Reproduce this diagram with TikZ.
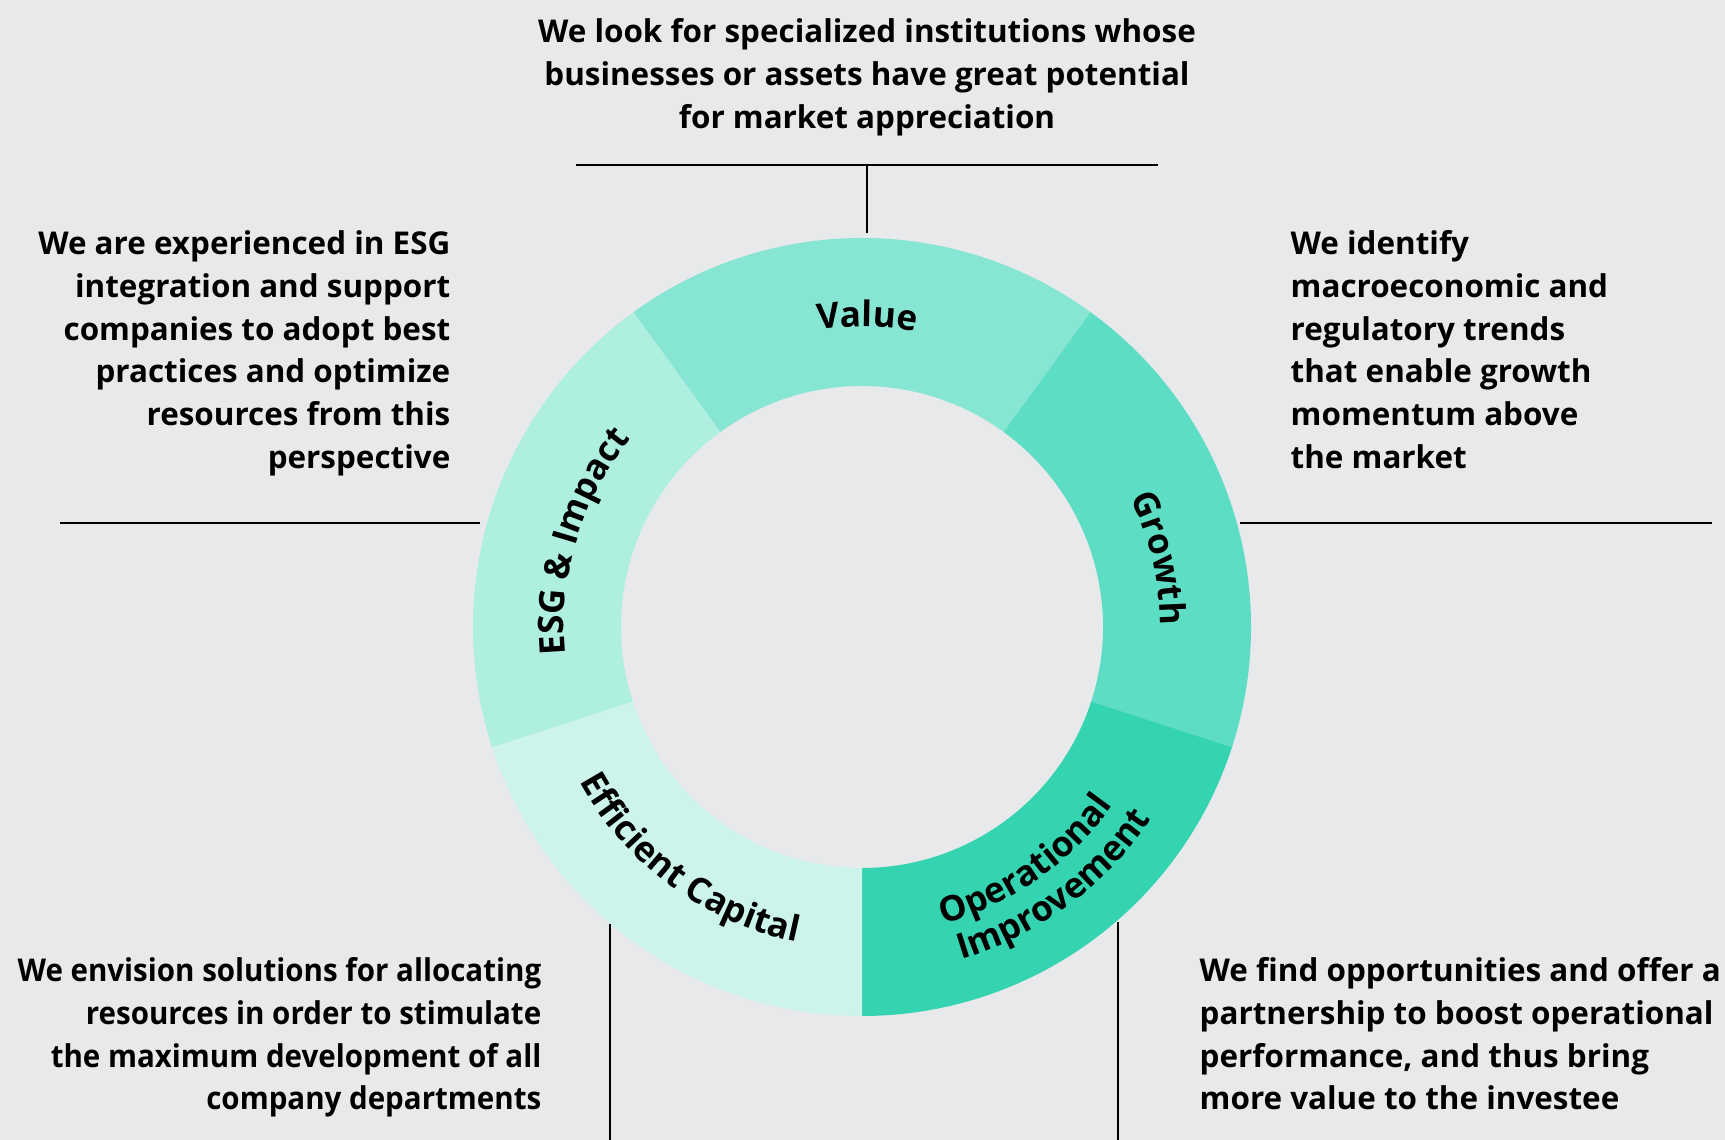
\documentclass[tikz,border=0pt]{standalone}
\usepackage{fontspec}
\setmainfont{Open Sans}
\newfontfamily\tightfamily{Open Sans}[FakeStretch=0.94]
\usetikzlibrary{decorations.text}
\definecolor{bgc}{HTML}{E8E9EB}
\definecolor{valuec}{HTML}{87E5D3}
\definecolor{growthc}{HTML}{5DDDC3}
\definecolor{operc}{HTML}{34D4B1}
\definecolor{effc}{HTML}{CCF4EB}
\definecolor{esgc}{HTML}{AEEFDF}
\newcommand{\sidefont}{\fontsize{8.93}{12.15}\selectfont\bfseries}
\newcommand{\tightfont}{\tightfamily\fontsize{8.93}{12.15}\selectfont\bfseries}
\newcommand{\ringfont}{\fontsize{10}{12}\selectfont\bfseries}

\begin{document}
\begin{tikzpicture}[x=0.01cm,y=0.01cm,
  sidetext/.style={font=\sidefont,inner sep=0pt},
  rule/.style={line width=0.7pt},
  ringtext/.style={decorate,decoration={text along path,text align=center,text={|\ringfont|#1}}}]
			\fill[bgc] (0,0) rectangle (1725,1140);
			\useasboundingbox (0,0) rectangle (1725,1140);
			\coordinate (ctr) at (862,513);
			\foreach \a/\c in {54/valuec,-18/growthc,-90/operc,198/effc,126/esgc}
				\fill[\c] ([shift={(\a:389)}]ctr) arc[start angle=\a,end angle=\a+72,radius=389]
					-- ([shift={(\a+72:241)}]ctr) arc[start angle=\a+72,end angle=\a,radius=241] -- cycle;
			\path[ringtext=Value] ([shift={(129:300)}]ctr) arc[start angle=129,end angle=49,radius=300];
			\path[ringtext=Growth] ([shift={(53:298)}]ctr) arc[start angle=53,end angle=-27,radius=298];
			\path[ringtext={ESG {\&} Impact}] ([shift={(203:298)}]ctr) arc[start angle=203,end angle=123,radius=298];
			\path[ringtext={Efficient Capital}] ([shift={(193.5:322)}]ctr) arc[start angle=193.5,end angle=273.5,radius=322];
			\path[ringtext=Operational] ([shift={(-95:308)}]ctr) arc[start angle=-95,end angle=-15,radius=308];
			\path[ringtext=Improvement] ([shift={(-93.5:347)}]ctr) arc[start angle=-93.5,end angle=-13.5,radius=347];
			\node[sidetext,anchor=north,align=center] (valuetxt) at (867,1122) {We look for specialized institutions whose\\businesses or assets have great potential\\for market appreciation};
			\node[sidetext,anchor=north east,align=right] (esgtxt) at (451,910) {We are experienced in ESG\\integration and support\\companies to adopt best\\practices and optimize\\resources from this\\perspective};
			\node[sidetext,anchor=north west,align=left] (growthtxt) at (1290,910) {We identify\\macroeconomic and\\regulatory trends\\that enable growth\\momentum above\\the market};
			\node[sidetext,font=\tightfont,anchor=north east,align=right] (efftxt) at (542,183) {We envision solutions for allocating\\resources in order to stimulate\\the maximum development of all\\company departments};
			\node[sidetext,anchor=north west,align=left] (opertxt) at (1199,183) {We find opportunities and offer a\\partnership to boost operational\\performance, and thus bring\\more value to the investee};
			\coordinate (vL) at (576,975);
			\coordinate (vR) at (1158,975);
			\coordinate (vM) at (867,975);
			\coordinate (vD) at (867,907);
			\coordinate (eL) at (60,617);
			\coordinate (eR) at (480,617);
			\coordinate (gL) at (1240,617);
			\coordinate (gR) at (1712,617);
			\coordinate (fT) at (610,216);
			\coordinate (fB) at (610,0);
			\coordinate (oT) at (1118,218);
			\coordinate (oB) at (1118,0);
			\draw[rule] (vL) -- (vR);
			\draw[rule] (vM) -- (vD);
			\draw[rule] (eL) -- (eR);
			\draw[rule] (gL) -- (gR);
			\draw[rule] (fT) -- (fB);
			\draw[rule] (oT) -- (oB);
		\end{tikzpicture}
\end{document}
